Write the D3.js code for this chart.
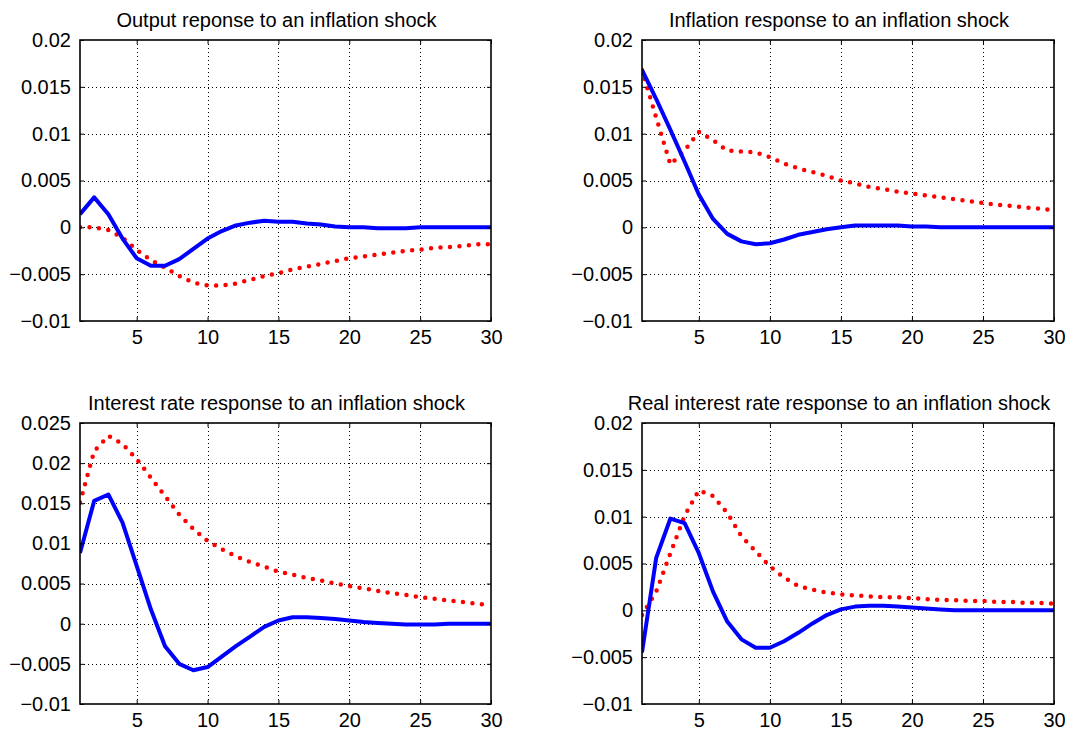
<!DOCTYPE html>
<html>
<head>
<meta charset="utf-8">
<script src="https://cdn.jsdelivr.net/npm/d3@7/dist/d3.min.js"></script>
<style>
  body { margin: 0; background: #fff; }
  text { font-family: "Liberation Sans", Arial, sans-serif; fill: #000; }
</style>
</head>
<body>
<div id="chart"></div>
<script>
// Horizon (periods after the shock)
var periods = [1,2,3,4,5,6,7,8,9,10,11,12,13,14,15,16,17,18,19,20,21,22,23,24,25,26,27,28,29,30];
var xTicks  = [5,10,15,20,25,30];

// y tick values and their printed labels
var yTicksShort  = [-0.01,-0.005,0,0.005,0.01,0.015,0.02];
var yLabelsShort = ["\u22120.01","\u22120.005","0","0.005","0.01","0.015","0.02"];
var yTicksTall   = [-0.01,-0.005,0,0.005,0.01,0.015,0.02,0.025];
var yLabelsTall  = ["\u22120.01","\u22120.005","0","0.005","0.01","0.015","0.02","0.025"];

var titles = [
  "Output reponse to an inflation shock",
  "Inflation response to an inflation shock",
  "Interest rate response to an inflation shock",
  "Real interest rate response to an inflation shock"
];

// solid blue series
var outputSolid    = [0.0014,0.0032,0.0014,-0.0012,-0.0033,-0.0041,-0.0041,-0.0034,-0.0023,-0.0012,-0.0004,0.0002,0.0005,0.0007,0.0006,0.0006,0.0004,0.0003,0.0001,0.0000,0.0000,-0.0001,-0.0001,-0.0001,0.0000,0.0000,0.0000,0.0000,0.0000,0.0000];
var inflationSolid = [0.0168,0.0137,0.0104,0.0070,0.0035,0.0009,-0.0007,-0.0015,-0.0018,-0.0017,-0.0013,-0.0008,-0.0005,-0.0002,0.0000,0.0002,0.0002,0.0002,0.0002,0.0001,0.0001,0.0000,0.0000,0.0000,0.0000,0.0000,0.0000,0.0000,0.0000,0.0000];
var rateSolid      = [0.0088,0.0153,0.0161,0.0126,0.0072,0.0018,-0.0028,-0.0050,-0.0058,-0.0054,-0.0041,-0.0028,-0.0016,-0.0004,0.0004,0.0008,0.0008,0.0007,0.0006,0.0004,0.0002,0.0001,0.0000,-0.0001,-0.0001,-0.0001,0.0000,0.0000,0.0000,0.0000];
var realRateSolid  = [-0.0045,0.0056,0.0098,0.0093,0.0061,0.0020,-0.0012,-0.0031,-0.0040,-0.0040,-0.0033,-0.0024,-0.0014,-0.0005,0.0001,0.0004,0.0005,0.0005,0.0004,0.0003,0.0002,0.0001,0.0000,0.0000,0.0000,0.0000,0.0000,0.0000,0.0000,0.0000];

// dotted red series
var outputDotted    = [0.0000,0.0000,-0.0003,-0.0011,-0.0024,-0.0035,-0.0043,-0.0052,-0.0059,-0.0062,-0.0062,-0.0060,-0.0056,-0.0052,-0.0049,-0.0045,-0.0042,-0.0039,-0.0036,-0.0033,-0.0031,-0.0029,-0.0027,-0.0025,-0.0024,-0.0022,-0.0021,-0.0020,-0.0018,-0.0018];
var inflationDotted = [0.0168,0.0117,0.0067,0.0082,0.0102,0.0093,0.0082,0.0081,0.0080,0.0075,0.0068,0.0063,0.0059,0.0055,0.0050,0.0047,0.0043,0.0041,0.0038,0.0036,0.0034,0.0032,0.0030,0.0028,0.0026,0.0024,0.0023,0.0021,0.0020,0.0018];
var rateDotted      = [0.0151,0.0215,0.0234,0.0224,0.0205,0.0182,0.0159,0.0136,0.0118,0.0103,0.0093,0.0084,0.0077,0.0071,0.0065,0.0061,0.0057,0.0054,0.0050,0.0047,0.0044,0.0041,0.0038,0.0036,0.0033,0.0031,0.0029,0.0027,0.0025,0.0023];
var realRateDotted  = [-0.0005,0.0020,0.0061,0.0101,0.0128,0.0122,0.0104,0.0079,0.0063,0.0047,0.0035,0.0026,0.0022,0.0019,0.0017,0.0016,0.0015,0.0014,0.0014,0.0013,0.0012,0.0011,0.0011,0.0010,0.0010,0.0009,0.0009,0.0008,0.0008,0.0007];

var W = 1073, H = 734;

// panel layout: plot box in page pixels
var panels = [
  {title: titles[0], solid: outputSolid,   dotted: outputDotted,   yTicks: yTicksShort, yLabels: yLabelsShort, box: {x0: 80,  x1: 491,  y0: 40,  y1: 321}},
  {title: titles[1], solid: inflationSolid, dotted: inflationDotted, yTicks: yTicksShort, yLabels: yLabelsShort, box: {x0: 642, x1: 1054, y0: 40,  y1: 321}},
  {title: titles[2], solid: rateSolid,     dotted: rateDotted,     yTicks: yTicksTall,  yLabels: yLabelsTall,  box: {x0: 80,  x1: 491,  y0: 423, y1: 704}},
  {title: titles[3], solid: realRateSolid, dotted: realRateDotted, yTicks: yTicksShort, yLabels: yLabelsShort, box: {x0: 642, x1: 1054, y0: 423, y1: 704}}
];

var svg = d3.select("#chart")
  .append("svg")
    .attr("width", W)
    .attr("height", H);

panels.forEach(function(p, i) {
  var b = p.box;
  var x = d3.scaleLinear().domain([1, 30]).range([b.x0, b.x1]);
  var yMin = p.yTicks[0], yMax = p.yTicks[p.yTicks.length - 1];
  var y = d3.scaleLinear().domain([yMin, yMax]).range([b.y1, b.y0]);

  var g = svg.append("g").attr("class", "panel");

  // clip so thick lines stop at the box
  g.append("clipPath").attr("id", "clip" + i)
    .append("rect")
      .attr("x", b.x0).attr("y", b.y0)
      .attr("width", b.x1 - b.x0).attr("height", b.y1 - b.y0);

  // dotted grid
  var grid = g.append("g").attr("class", "grid")
    .attr("stroke", "#000").attr("stroke-width", 1)
    .attr("stroke-dasharray", "1,3");
  grid.selectAll("line.gx")
    .data(xTicks.filter(function(d) { return d > 1 && d < 30; }))
    .enter().append("line")
      .attr("class", "gx")
      .attr("x1", function(d) { return Math.round(x(d)) + 0.5; })
      .attr("x2", function(d) { return Math.round(x(d)) + 0.5; })
      .attr("y1", b.y0).attr("y2", b.y1);
  grid.selectAll("line.gy")
    .data(p.yTicks.filter(function(d) { return d > yMin && d < yMax; }))
    .enter().append("line")
      .attr("class", "gy")
      .attr("y1", function(d) { return Math.round(y(d)) + 0.5; })
      .attr("y2", function(d) { return Math.round(y(d)) + 0.5; })
      .attr("x1", b.x0).attr("x2", b.x1);

  // series
  var line = d3.line()
    .x(function(d, k) { return x(periods[k]); })
    .y(function(d) { return y(d); });

  var plot = g.append("g").attr("clip-path", "url(#clip" + i + ")");
  plot.append("path")
    .datum(p.dotted)
    .attr("d", line)
    .attr("fill", "none")
    .attr("stroke", "#ff0000")
    .attr("stroke-width", 4.5)
    .attr("stroke-linecap", "round")
    .attr("stroke-dasharray", "0,9.5");
  plot.append("path")
    .datum(p.solid)
    .attr("d", line)
    .attr("fill", "none")
    .attr("stroke", "#0000ff")
    .attr("stroke-width", 4)
    .attr("stroke-linejoin", "round");

  // axes, ticks pointing inward
  var fmt = function(d) { return p.yLabels[p.yTicks.indexOf(d)]; };
  var axB = g.append("g").attr("transform", "translate(0," + b.y1 + ")")
    .call(d3.axisBottom(x).tickValues(xTicks).tickSize(-4).tickPadding(9));
  var axT = g.append("g").attr("transform", "translate(0," + b.y0 + ")")
    .call(d3.axisTop(x).tickValues(xTicks).tickSize(-4).tickFormat(""));
  var axL = g.append("g").attr("transform", "translate(" + b.x0 + ",0)")
    .call(d3.axisLeft(y).tickValues(p.yTicks).tickSize(-4).tickPadding(9).tickFormat(fmt));
  var axR = g.append("g").attr("transform", "translate(" + b.x1 + ",0)")
    .call(d3.axisRight(y).tickValues(p.yTicks).tickSize(-4).tickFormat(""));

  [axB, axT, axL, axR].forEach(function(a) {
    a.select(".domain").remove();
    a.selectAll("line").attr("stroke", "#000").attr("stroke-width", 1);
    a.selectAll("text")
      .style("font-family", "'Liberation Sans', Arial, sans-serif")
      .style("font-size", "20px")
      .attr("fill", "#000");
  });

  // box
  g.append("rect")
    .attr("x", b.x0).attr("y", b.y0)
    .attr("width", b.x1 - b.x0).attr("height", b.y1 - b.y0)
    .attr("fill", "none")
    .attr("stroke", "#000")
    .attr("stroke-width", 1.6);

  // title
  g.append("text")
    .attr("x", (b.x0 + b.x1) / 2 - 9)
    .attr("y", b.y0 - 13)
    .attr("text-anchor", "middle")
    .style("font-size", "20px")
    .text(p.title);
});
</script>
</body>
</html>
